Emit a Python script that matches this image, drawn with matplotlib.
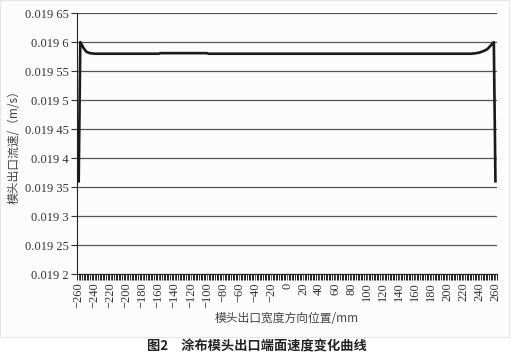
import matplotlib.pyplot as plt
from matplotlib.ticker import MultipleLocator, FuncFormatter
from matplotlib.patches import Rectangle

# values
pos_mm = [-260, -258, -256, -254, -252, -250, -246, -240, -160, -158, -100, -98,
          230, 236, 240, 246, 250, 254, 258, 260]
speed = [0.019360, 0.019600, 0.019595, 0.019590, 0.019586, 0.019583, 0.019581, 0.019580,
         0.019580, 0.019581, 0.019581, 0.019580,
         0.019580, 0.019581, 0.019582, 0.019585, 0.019588, 0.019594, 0.019600, 0.019360]

y_ticks = [0.0192, 0.01925, 0.0193, 0.01935, 0.0194, 0.01945, 0.0195, 0.01955, 0.0196, 0.01965]
y_labels = ["0.019 2", "0.019 25", "0.019 3", "0.019 35", "0.019 4", "0.019 45",
            "0.019 5", "0.019 55", "0.019 6", "0.019 65"]

plt.rcParams["font.family"] = ["Liberation Serif", "Noto Sans CJK SC"]
cjk = ["Noto Sans CJK SC", "DejaVu Sans"]

fig = plt.figure(figsize=(5.14, 3.55), dpi=100)
fig.patches.append(Rectangle((0.0, 0.052), 0.99, 0.948, transform=fig.transFigure,
                             facecolor="#fcfcfc", edgecolor="#e6e6e6", lw=0.8, zorder=-1))
ax = fig.add_axes([0.150, 0.228, 0.817, 0.735])
ax.set_facecolor("none")

ax.plot(pos_mm, speed, color="#1a1a1a", lw=1.9, solid_joinstyle="round", zorder=3)

ax.set_xlim(-262, 262)
ax.set_ylim(0.0192, 0.01965)
ax.set_yticks(y_ticks)
ax.set_yticklabels(y_labels, fontsize=9)
ax.yaxis.grid(True, color="#555555", lw=0.9)
ax.set_axisbelow(True)

ax.xaxis.set_major_locator(MultipleLocator(20))
ax.xaxis.set_minor_locator(MultipleLocator(2))
ax.xaxis.set_major_formatter(FuncFormatter(lambda v, p: f"{int(round(v))}".replace("-", "\u2212")))
ax.tick_params(axis="x", which="major", length=4, width=0.6, labelrotation=90, labelsize=9, pad=2)
ax.tick_params(axis="x", which="minor", length=4, width=0.6)
ax.tick_params(axis="y", length=4, width=0.8, pad=2, colors="#333333")
ax.tick_params(axis="x", colors="#333333")

for side in ["top", "right"]:
    ax.spines[side].set_visible(False)
ax.spines["left"].set_color("#222222")
ax.spines["bottom"].set_color("#222222")

ax.set_ylabel("模头出口流速/（m/s）", fontfamily=cjk, fontsize=8.5, color="#444444", labelpad=3)
ax.set_xlabel("模头出口宽度方向位置/mm", fontfamily=cjk, fontsize=8.5, color="#444444", labelpad=3)

fig.text(0.5, 0.025, "图2　涂布模头出口端面速度变化曲线", ha="center", va="center",
         fontfamily=cjk, fontsize=9.5, fontweight="bold", color="#222222")

plt.savefig("out.png", dpi=100)
plt.close()
